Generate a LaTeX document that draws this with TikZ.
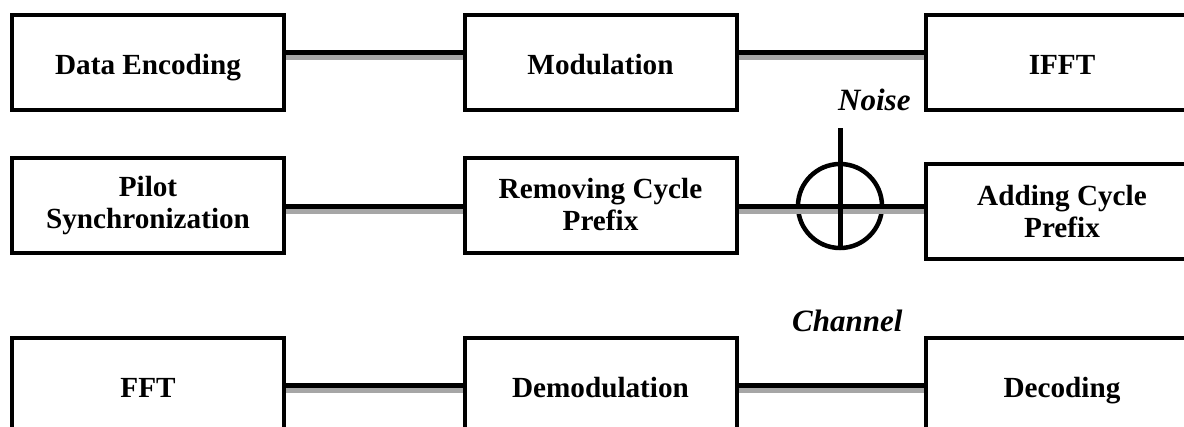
\documentclass[tikz,border=0pt]{standalone}
\usepackage{fontspec}
\setmainfont{Liberation Serif}
\begin{document}
\begin{tikzpicture}[x=1pt, y=-1pt,
  block/.style={draw, rectangle, line width=4pt, minimum width=272pt, minimum height=95pt, inner sep=0pt, align=center, font=\bfseries\fontsize{29.2}{32}\selectfont},
  oneline/.style={text height=23.3pt, text depth=0pt},
  tag/.style={inner sep=0pt, font=\bfseries\itshape\fontsize{31}{34}\selectfont},
  wire/.style={line width=5pt, preaction={draw=gray!70, line width=5pt, transform canvas={yshift=-5pt}}}]
\useasboundingbox (0, 0) rectangle (1184, 426);
\node[block, oneline] (encoding) at (148, 62.5) {Data Encoding};
\node[block, oneline] (modulation) at (600.5, 62.5) {Modulation};
\node[block, oneline] (ifft) at (1062, 62.5) {IFFT};
\node[block] (pilot) at (148, 205.5) {Pilot\\Synchronization};
\node[block] (removeCP) at (600.5, 205) {Removing Cycle\\Prefix};
\node[block] (addCP) at (1062, 211.5) {Adding Cycle\\Prefix};
\node[block, oneline] (fft) at (148, 385.5) {FFT};
\node[block, oneline] (demod) at (600.5, 385.5) {Demodulation};
\node[block, oneline] (decoding) at (1062, 385.5) {Decoding};
\node[draw, circle, line width=4.5pt, minimum size=84pt, inner sep=0pt] (adder) at (840, 206) {};
\node[tag, anchor=base west] (noiseText) at (838, 110) {Noise};
\node[tag, anchor=base west] (channelText) at (792, 331) {Channel};
\coordinate (noiseIn) at (840, 128); % top end of the noise input
\draw[wire] ([yshift=10.5pt]encoding.east) -- ([yshift=10.5pt]modulation.west);
\draw[wire] ([yshift=10.5pt]modulation.east) -- ([yshift=10.5pt]ifft.west);
\draw[wire] (pilot.east |- adder.center) -- (removeCP.west |- adder.center);
\draw[wire] (removeCP.east |- adder.center) -- (addCP.west |- adder.center);
\draw[wire] (fft.east) -- (demod.west);
\draw[wire] (demod.east) -- (decoding.west);
\draw[line width=5pt] (noiseIn) -- (adder.south);
\end{tikzpicture}
\end{document}
